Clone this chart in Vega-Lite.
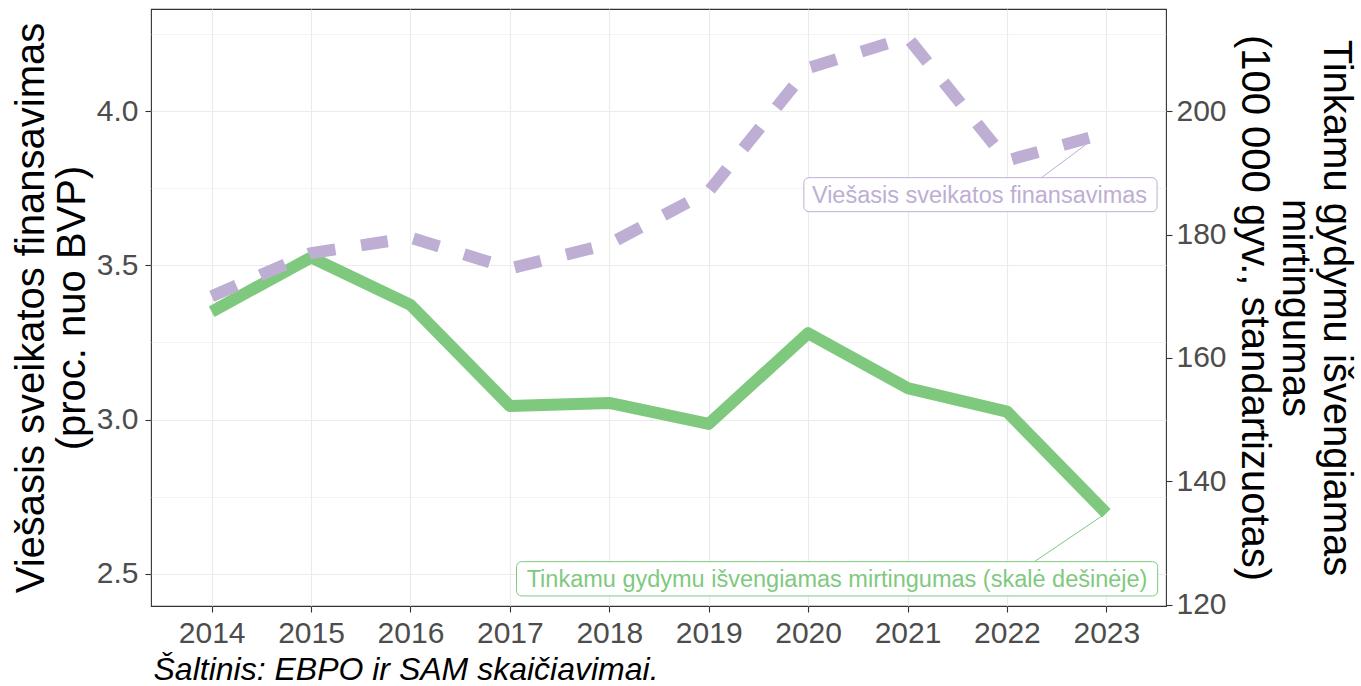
{
  "$schema": "https://vega.github.io/schema/vega-lite/v6.json",
  "width": 1015,
  "height": 597,
  "autosize": {"type": "none"},
  "padding": {"left": 151, "top": 9, "right": 195, "bottom": 80},
  "background": "white",
  "config": {
    "font": "Liberation Sans",
    "view": {"stroke": "#333333", "strokeWidth": 1.1}
  },
  "datasets": {
    "series": [
      {"year": 2014, "financing": 3.40, "mortality": 167.5},
      {"year": 2015, "financing": 3.54, "mortality": 176.3},
      {"year": 2016, "financing": 3.59, "mortality": 168.6},
      {"year": 2017, "financing": 3.49, "mortality": 152.2},
      {"year": 2018, "financing": 3.57, "mortality": 152.7},
      {"year": 2019, "financing": 3.74, "mortality": 149.3},
      {"year": 2020, "financing": 4.14, "mortality": 164.0},
      {"year": 2021, "financing": 4.24, "mortality": 155.1},
      {"year": 2022, "financing": 3.84, "mortality": 151.3},
      {"year": 2023, "financing": 3.93, "mortality": 134.8}
    ],
    "labelRight": [
      {"label": "Tinkamu gydymu išvengiamas mirtingumas (skalė dešinėje)", "lx": 2020.291, "ly": 123.98, "bx1": 2017.067, "bx2": 2023.516, "by1": 126.95, "by2": 121.39, "sx": 2022.95, "sy": 134.3, "ex": 2022.276, "ey": 126.95}
    ],
    "labelLeft": [
      {"label": "Viešasis sveikatos finansavimas", "lx": 2021.724, "ly": 3.7236, "bx1": 2019.957, "bx2": 2023.51, "by1": 3.7846, "by2": 3.6743, "sx": 2022.79, "sy": 3.8907, "ex": 2022.347, "ey": 3.7846}
    ]
  },
  "layer": [
    {
      "data": {"name": "series"},
      "mark": {"type": "line", "color": "#7FC97F", "strokeWidth": 12, "strokeJoin": "round", "strokeCap": "butt"},
      "encoding": {
        "x": {
          "field": "year", "type": "quantitative",
          "scale": {"domain": [2013.39, 2023.6], "nice": false, "zero": false},
          "axis": {
            "values": [2014, 2015, 2016, 2017, 2018, 2019, 2020, 2021, 2022, 2023],
            "format": "d",
            "domain": false,
            "grid": true,
            "gridColor": "#EBEBEB",
            "gridWidth": 1.1,
            "ticks": true,
            "tickColor": "#333333",
            "tickSize": 6,
            "tickWidth": 1.1,
            "labelFontSize": 30,
            "labelColor": "#4D4D4D",
            "labelPadding": 6,
            "labelFlush": false,
            "title": "Šaltinis: EBPO ir SAM skaičiavimai.",
            "titleFontSize": 32,
            "titleFontStyle": "italic",
            "titleFontWeight": "normal",
            "titleColor": "#000000",
            "titleAnchor": "start",
            "titleAlign": "left",
            "titleBaseline": "alphabetic",
            "titleX": 2,
            "titleY": 73
          }
        },
        "y": {
          "field": "mortality", "type": "quantitative",
          "scale": {"domain": [119.76, 216.59], "nice": false, "zero": false},
          "axis": {
            "orient": "right",
            "values": [120, 140, 160, 180, 200],
            "domain": false,
            "grid": false,
            "tickColor": "#333333",
            "tickSize": 6,
            "tickWidth": 1.1,
            "labelFontSize": 30,
            "labelColor": "#4D4D4D",
            "labelPadding": 4,
            "title": ["Tinkamu gydymu išvengiamas", "mirtingumas", "(100 000 gyv., standartizuotas)"],
            "titleFontSize": 40,
            "titleFontWeight": "normal",
            "titleColor": "#000000",
            "titleAngle": 90,
            "titleAlign": "center",
            "titleBaseline": "alphabetic",
            "titleLineHeight": 41,
            "titleX": 157,
            "titleY": 298.5
          }
        }
      }
    },
    {
      "data": {"name": "labelRight"},
      "mark": {"type": "rule", "color": "#7FC97F", "strokeWidth": 1},
      "encoding": {
        "x": {"field": "sx", "type": "quantitative"},
        "x2": {"field": "ex"},
        "y": {"field": "sy", "type": "quantitative", "scale": {"domain": [119.76, 216.59], "nice": false, "zero": false}, "axis": null},
        "y2": {"field": "ey"}
      }
    },
    {
      "data": {"name": "labelRight"},
      "mark": {"type": "rect", "fill": "white", "stroke": "#7FC97F", "strokeWidth": 1, "cornerRadius": 5},
      "encoding": {
        "x": {"field": "bx1", "type": "quantitative"},
        "x2": {"field": "bx2"},
        "y": {"field": "by1", "type": "quantitative", "scale": {"domain": [119.76, 216.59], "nice": false, "zero": false}, "axis": null},
        "y2": {"field": "by2"}
      }
    },
    {
      "data": {"name": "labelRight"},
      "mark": {"type": "text", "color": "#7FC97F", "fontSize": 23.5, "align": "center", "baseline": "middle"},
      "encoding": {
        "x": {"field": "lx", "type": "quantitative"},
        "y": {"field": "ly", "type": "quantitative", "scale": {"domain": [119.76, 216.59], "nice": false, "zero": false}, "axis": null},
        "text": {"field": "label"}
      }
    },
    {
      "data": {"name": "labelLeft"},
      "mark": {"type": "rule", "color": "#BEAED4", "strokeWidth": 1},
      "encoding": {
        "x": {"field": "sx", "type": "quantitative"},
        "x2": {"field": "ex"},
        "y": {"field": "sy", "type": "quantitative", "scale": {"domain": [2.3952, 4.3318], "nice": false, "zero": false}, "axis": null},
        "y2": {"field": "ey"}
      }
    },
    {
      "data": {"name": "series"},
      "mark": {"type": "line", "color": "#BEAED4", "strokeWidth": 12, "strokeDash": [27, 26], "strokeCap": "butt", "strokeJoin": "round"},
      "encoding": {
        "x": {"field": "year", "type": "quantitative"},
        "y": {
          "field": "financing", "type": "quantitative",
          "scale": {"domain": [2.3952, 4.3318], "nice": false, "zero": false},
          "axis": {
            "orient": "left",
            "values": [2.5, 2.75, 3, 3.25, 3.5, 3.75, 4, 4.25],
            "labelExpr": "datum.value % 0.5 === 0 ? format(datum.value, '.1f') : ''",
            "domain": false,
            "grid": true,
            "gridColor": "#EBEBEB",
            "gridWidth": {"condition": {"test": "datum.value % 0.5 === 0", "value": 1.1}, "value": 0.6},
            "tickColor": "#333333",
            "tickOpacity": {"condition": {"test": "datum.value % 0.5 === 0", "value": 1}, "value": 0},
            "tickSize": 6,
            "tickWidth": 1.1,
            "labelFontSize": 30,
            "labelColor": "#4D4D4D",
            "labelPadding": 7,
            "title": ["Viešasis sveikatos finansavimas", "(proc. nuo BVP)"],
            "titleFontSize": 40,
            "titleFontWeight": "normal",
            "titleColor": "#000000",
            "titleAngle": -90,
            "titleAlign": "center",
            "titleBaseline": "alphabetic",
            "titleLineHeight": 41,
            "titleX": -108,
            "titleY": 298.5
          }
        }
      }
    },
    {
      "data": {"name": "labelLeft"},
      "mark": {"type": "rect", "fill": "white", "stroke": "#BEAED4", "strokeWidth": 1, "cornerRadius": 5},
      "encoding": {
        "x": {"field": "bx1", "type": "quantitative"},
        "x2": {"field": "bx2"},
        "y": {"field": "by1", "type": "quantitative", "scale": {"domain": [2.3952, 4.3318], "nice": false, "zero": false}, "axis": null},
        "y2": {"field": "by2"}
      }
    },
    {
      "data": {"name": "labelLeft"},
      "mark": {"type": "text", "color": "#BEAED4", "fontSize": 23.5, "align": "center", "baseline": "middle"},
      "encoding": {
        "x": {"field": "lx", "type": "quantitative"},
        "y": {"field": "ly", "type": "quantitative", "scale": {"domain": [2.3952, 4.3318], "nice": false, "zero": false}, "axis": null},
        "text": {"field": "label"}
      }
    }
  ],
  "resolve": {"scale": {"y": "independent"}}
}
